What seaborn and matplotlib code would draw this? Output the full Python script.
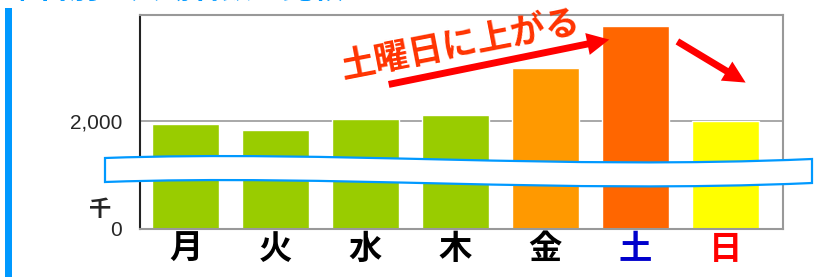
import matplotlib
matplotlib.use("Agg")
import pandas as pd
import seaborn as sns
from matplotlib import pyplot as plt
from matplotlib.path import Path as MPath
from matplotlib.patches import PathPatch, Rectangle, FancyArrowPatch

DAYS = ['月', '火', '水', '木', '金', '土', '日']
VALUES = [1970, 1920, 2020, 2055, 2490, 2880, 2000]
BAR_COLORS = ['#99CC00', '#99CC00', '#99CC00', '#99CC00', '#FF9900', '#FF6600', '#FFFF00']
LABEL_COLORS = ['black', 'black', 'black', 'black', 'black', '#0000CC', '#FF0000']
# broken axis: bottom of the axis stands for 0
Y_TICKS = [1000, 2000]
Y_TICK_LABELS = ['0', '2,000']
NOTE = '土曜日に上がる'
UNIT = '千'
TITLE = '曜日別の入場者数の比較'

W, H = 827, 277


def fx(x):
    return x / W


def fy(y):
    return 1 - y / H


sns.set_style("white")
plt.rcParams['font.family'] = ['Noto Sans CJK JP', 'DejaVu Sans']

fig = plt.figure(figsize=(W / 100, H / 100), dpi=100)
ax = fig.add_axes([fx(140), fy(229), fx(783) - fx(140), fy(15) - fy(229)])

df = pd.DataFrame({'day': DAYS, 'value': VALUES})
sns.barplot(data=df, x='day', y='value', hue='day', palette=BAR_COLORS,
            saturation=1, width=0.74, legend=False, ax=ax, zorder=2)
ax.axhline(2000, color='#999999', lw=1.2, zorder=1)

ax.set_xlim(-0.506, 6.64)
ax.set_ylim(1000, 2981)
ax.set_yticks(Y_TICKS)
ax.set_yticklabels(Y_TICK_LABELS, family=['Liberation Sans', 'DejaVu Sans'], fontsize=15)
ax.tick_params(axis='y', length=0, pad=13)
ax.tick_params(axis='x', length=0, pad=3, labelsize=24)
for lbl, c in zip(ax.get_xticklabels(), LABEL_COLORS):
    lbl.set_color(c)
    lbl.set_fontweight('bold')
ax.set_xlabel('')
ax.set_ylabel('')

for name, sp in ax.spines.items():
    sp.set_visible(True)
    sp.set_linewidth(1.5)
    sp.set_color('#222222' if name == 'left' else '#999999')

# unit label
fig.text(fx(100), fy(209), UNIT, ha='center', va='center', fontsize=16, fontweight='bold')

# left blue bar and title (cut off by the top edge, as in the source)
fig.add_artist(Rectangle((fx(5), 0), fx(12) - fx(5), fy(8), transform=fig.transFigure,
                         color='#0099FF', lw=0))
fig.text(fx(8), fy(5), TITLE, ha='left', va='bottom', fontsize=22,
         fontweight='bold', color='#0099FF')

# axis break band
verts = [(105, 158), (330, 150), (560, 170), (812, 159),
         (812, 183),
         (560, 194), (330, 174), (105, 182),
         (105, 158)]
codes = [MPath.MOVETO, MPath.CURVE4, MPath.CURVE4, MPath.CURVE4,
         MPath.LINETO,
         MPath.CURVE4, MPath.CURVE4, MPath.CURVE4,
         MPath.CLOSEPOLY]
band = MPath([(fx(x), fy(y)) for x, y in verts], codes)
fig.add_artist(PathPatch(band, transform=fig.transFigure, facecolor='white',
                         edgecolor='#0099FF', lw=1.6, zorder=5))

# arrows and note
style = 'simple,head_length=1.6,head_width=1.6,tail_width=0.5'
for (x0, y0), (x1, y1) in [((386, 85), (612, 39)), ((675, 40), (748, 84))]:
    fig.add_artist(FancyArrowPatch((fx(x0), fy(y0)), (fx(x1), fy(y1)),
                                   transform=fig.transFigure, arrowstyle=style,
                                   mutation_scale=10, color='#FF0000', lw=0, zorder=6))
fig.text(fx(460), fy(45), NOTE, ha='center', va='center', rotation=11,
         fontsize=25, fontweight='bold', color='#FF3300', zorder=7)

fig.savefig('out.png', dpi=100)
